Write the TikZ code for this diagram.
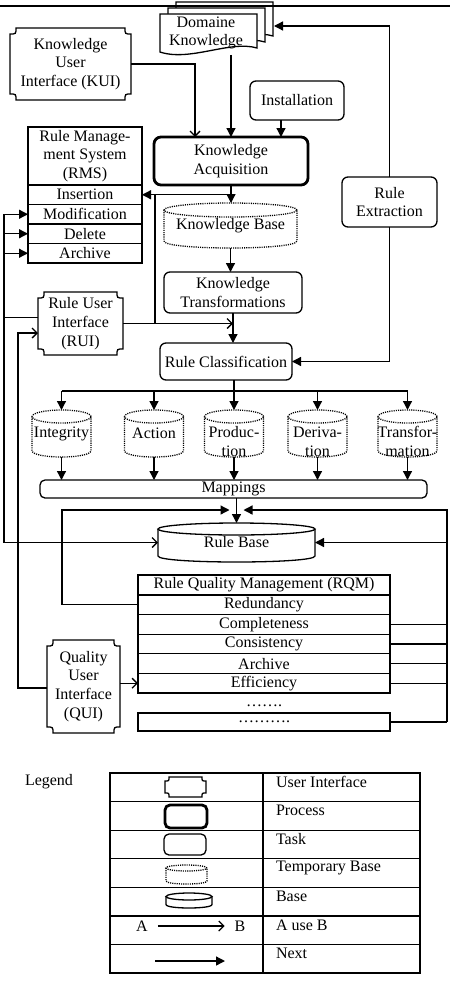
\documentclass[tikz,border=0pt]{standalone}
\usepackage{fontspec}
\setmainfont{Liberation Serif}
\usetikzlibrary{arrows.meta}

\tikzset{
  every node/.style={inner sep=0pt, outer sep=0pt, align=center,
    font=\fontsize{16}{18.8}\selectfont},
  task/.style={draw, rounded corners=6pt},
  process/.style={draw, line width=2.8pt, rounded corners=7pt},
  cell/.style={draw},
  rmsrow/.style={cell, minimum width=114, minimum height=19.5, anchor=north},
  rqmrow/.style={cell, minimum width=252, minimum height=19.6, anchor=north},
  tmpline/.style={dash pattern=on 1.1pt off 1.1pt},
  nextarrow/.style={-{Triangle[length=9pt,width=9pt]}},
  usearrow/.style={-{Straight Barb[length=5pt,width=10pt]}},
}

% frame of a user interface: a box with hollowed corners
\newcommand{\uiframe}[2][6pt]{%
  \draw ([xshift=#1]#2.north west) -- ([xshift=-#1]#2.north east)
    .. controls ([xshift=-#1,yshift=-#1]#2.north east) .. ([yshift=-#1]#2.north east)
    -- ([yshift=#1]#2.south east)
    .. controls ([xshift=-#1,yshift=#1]#2.south east) .. ([xshift=-#1]#2.south east)
    -- ([xshift=#1]#2.south west)
    .. controls ([xshift=#1,yshift=#1]#2.south west) .. ([yshift=#1]#2.south west)
    -- ([yshift=-#1]#2.north west)
    .. controls ([xshift=#1,yshift=-#1]#2.north west) .. cycle;}

% drum shape around a node: half width #3, cap radius #4
\newcommand{\drum}[4][]{%
  \draw[#1] ([yshift=-#4]#2.north) ellipse [x radius=#3, y radius=#4];
  \draw[#1] ([yshift=-#4]#2.north west) -- ([yshift=#4]#2.south west)
    .. controls ([yshift=-#4/3]#2.south west) and ([yshift=-#4/3]#2.south east)
    .. ([yshift=#4]#2.south east) -- ([yshift=-#4]#2.north east);}

% one sheet of the document stack, top left corner at (#1,#2)
\newcommand{\sheet}[2]{%
  \draw[fill=white] (#1,#2+38) -- (#1,#2) -- (#1+97,#2) -- (#1+97,#2+34)
    .. controls (#1+70,#2+26) and (#1+30,#2+48) .. (#1,#2+38) -- cycle;}

\begin{document}
\begin{tikzpicture}[x=1pt, y=-1pt, line width=1.3pt]
\useasboundingbox (0,0) rectangle (450,982);

% document stack with the domain knowledge
\sheet{176}{2}
\sheet{168}{8}
\sheet{160}{14}
\node (dk) at (206,33) {Domaine\\Knowledge};
\coordinate (dkfoot) at (231,55);
\coordinate (dkback) at (274,26);
\draw (0,6) -- (450,6);

% user interfaces
\node[minimum width=121, minimum height=72] (kui) at (70.5,64) {Knowledge\\User\\Interface (KUI)};
\uiframe{kui}
\node[minimum width=85, minimum height=63] (rui) at (80.5,323.5) {Rule User\\Interface\\(RUI)};
\uiframe{rui}
\node[minimum width=73, minimum height=93] (qui) at (83.5,686.5) {Quality\\User\\Interface\\(QUI)};
\uiframe{qui}

% processes and tasks
\node[task, minimum width=94, minimum height=39] (inst) at (297,100.5) {Installation};
\node[process, minimum width=154, minimum height=48] (ka) at (231,161) {Knowledge\\Acquisition};
\node[task, minimum width=95, minimum height=50] (rex) at (389.5,202) {Rule\\Extraction};
\node[task, minimum width=138, minimum height=41] (kt) at (233,292.5) {Knowledge\\Transformations};
\node[task, minimum width=132, minimum height=37] (rc) at (226,361.5) {Rule Classification};
\node[task, rounded corners=5pt, minimum width=387, minimum height=18] (map) at (233.5,489) {Mappings};

% rule management system
\node[cell, minimum width=114, minimum height=58] (rms) at (85,156) {Rule Manage-\\ment System\\(RMS)};
\node[rmsrow] (ins) at (rms.south) {Insertion};
\node[rmsrow] (mod) at (ins.south) {Modification};
\node[rmsrow] (del) at (mod.south) {Delete};
\node[rmsrow] (arch) at (del.south) {Archive};

% rule quality management
\node[cell, minimum width=252, minimum height=20] (rqm) at (264,585) {Rule Quality Management (RQM)};
\node[rqmrow] (red) at (rqm.south) {Redundancy};
\node[rqmrow] (comp) at (red.south) {Completeness};
\node[rqmrow] (cons) at (comp.south) {Consistency};
\node[rqmrow] (arch2) at (cons.south) {Archive};
\node[rqmrow] (eff) at (arch2.south) {Efficiency};
\node (more) at (264,706) {\dots\dots.};
\node[cell, minimum width=252, minimum height=18] (last) at (264,722) {\dots\dots\dots.};

% bases
\node[minimum width=133, minimum height=45] (kb) at (230.5,225.5) {Knowledge Base};
\drum[tmpline]{kb}{66.5pt}{7pt}
\foreach \id/\x/\dy/\txt in {integ/61.5/0/Integrity, action/154/0/Action,
    produc/234/-8/{Produc-\\tion}, deriv/317.5/-8/{Deriva-\\tion},
    transf/407.5/-8/{Transfor-\\mation}} {
  \node[minimum width=59, minimum height=47, label={[yshift=\dy pt]center:\txt}] (\id) at (\x,433.5) {};
  \drum[tmpline]{\id}{29.5pt}{6.5pt}
}
\node[minimum width=157, minimum height=39] (rb) at (236.5,542.5) {Rule Base};
\drum{rb}{78.5pt}{6pt}

% knowledge flow
\draw[usearrow] (kui.east) -| ([xshift=-36pt]ka.north);
\draw[nextarrow] (dkfoot) -- (dkfoot |- ka.north);
\draw[nextarrow] ([xshift=-16pt]inst.south) -- ([xshift=-16pt]inst.south |- ka.north);
\draw[nextarrow] (rex.north) |- (dkback);
\draw[nextarrow] (rex.south) |- (rc.east);
\draw[nextarrow] (ka.south) |- (ins.east);
\draw[nextarrow] (ka.south) -- (ka.south |- kb.north);
\draw ([xshift=13pt]ins.east) -- ([xshift=13pt]ins.east |- rui.east);
\draw[nextarrow] (kb.south) -- (kb.south |- kt.north);
\draw[nextarrow] (kt.south) -- (kt.south |- rc.north);
\draw[usearrow] (rui.east) -- (rui.east -| kt.south);

% rule user interface and its links on the left
\coordinate (lbus) at (4,0);
\draw ([yshift=6pt]rui.west) -- ([yshift=6pt]rui.west -| lbus);
\draw[usearrow] (lbus |- mod.west) |- (rb.west);
\foreach \r in {mod,del,arch}
  \draw[nextarrow] (lbus |- \r.west) -- (\r.west);
\draw[usearrow] ([yshift=-1.5pt]qui.west) -| ([xshift=-20pt,yshift=-9.5pt]rui.west) -- ([yshift=-9.5pt]rui.west);
\draw[usearrow] (qui.east |- eff.west) -- (eff.west);

% classification into the five kinds of rules
\coordinate (split) at (0,391);
\draw (rc.south -| produc.north) -- (split -| produc.north);
\draw (split -| integ.north) -- (split -| transf.north);
\foreach \id in {integ,action,produc,deriv,transf} {
  \draw[nextarrow] (split -| \id.north) -- (\id.north);
  \draw[nextarrow] (\id.south) -- (\id.south |- map.north);
}
\draw[nextarrow] (map.south -| rb.north) -- (rb.north);

% quality management feeds the rule base
\draw[nextarrow] (red.west) -- ++(-76,0) |- ([xshift=-7pt,yshift=13pt]rb.north);
\coordinate (rbus) at (447,510);
\draw[nextarrow] (rbus |- last.east) -- (rbus) -- ([xshift=7pt,yshift=13pt]rb.north);
\foreach \r in {comp,cons,arch2,eff,last}
  \draw (\r.east) -- (\r.east -| rbus);
\draw[nextarrow] (rbus |- rb.east) -- (rb.east);

% legend
\node[anchor=west] (legend) at (25,782) {Legend};
\draw (110,773) rectangle (420,973) (263,773) -- (263,973);
\foreach \i in {1,...,6}
  \draw (110,773+\i*200/7) -- (420,773+\i*200/7);
\node[minimum width=41, minimum height=20] (lui) at (185.5,787) {};
\uiframe[4pt]{lui}
\node[process, rounded corners=5pt, minimum width=42, minimum height=23] (lproc) at (186,816.5) {};
\node[task, rounded corners=5pt, minimum width=42, minimum height=21] (ltask) at (185,844.5) {};
\node[minimum width=41, minimum height=19] (ltmp) at (186.5,874.5) {};
\drum[tmpline]{ltmp}{20.5pt}{3pt}
\node[minimum width=46, minimum height=15] (lbase) at (189,900.5) {};
\drum{lbase}{23pt}{3.5pt}
\node (la) at (142,926) {A};
\node (lb) at (240,926) {B};
\draw[usearrow, shorten <=10pt, shorten >=10pt] (la) -- (lb);
\coordinate (nx1) at (155,961);
\coordinate (nx2) at (225,961);
\draw[nextarrow] (nx1) -- (nx2);
\foreach \i/\txt in {0/User Interface, 1/Process, 2/Task, 3/Temporary Base,
    4/Base, 5/A use B, 6/Next}
  \node[anchor=west] (key\i) at (276,782+\i*200/7) {\txt};
\end{tikzpicture}
\end{document}
